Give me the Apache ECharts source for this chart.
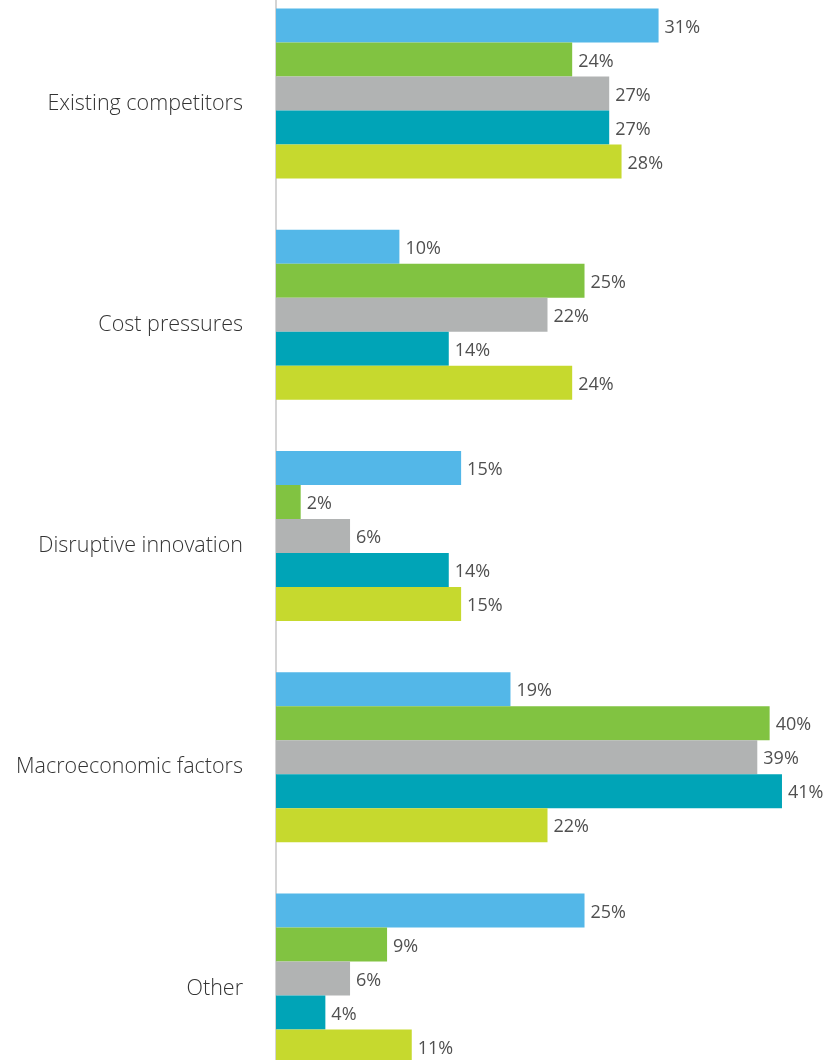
<!DOCTYPE html>
<html>
<head>
<meta charset="utf-8">
<script src="https://cdn.jsdelivr.net/npm/echarts@6/dist/echarts.min.js"></script>
<style>
  html, body { margin: 0; padding: 0; background: #fff; overflow: hidden; }
  /* the reference crops the plot at top and bottom */
  #chart { position: absolute; left: 0; top: -17px; width: 826px; height: 1106px; }
</style>
</head>
<body>
<div id="chart"></div>
<script>
// categories, top to bottom
const categories = ['Existing competitors', 'Cost pressures', 'Disruptive innovation', 'Macroeconomic factors', 'Other']

// five series per category (no legend shown in the picture)
const seriesA = [31, 10, 15, 19, 25]
const seriesB = [24, 25, 2, 40, 9]
const seriesC = [27, 22, 6, 39, 6]
const seriesD = [27, 14, 14, 41, 4]
const seriesE = [28, 24, 15, 22, 11]

const seriesData = [seriesA, seriesB, seriesC, seriesD, seriesE]
const colors = ['#53b7e8', '#81c341', '#b1b3b3', '#00a4b7', '#c6d92e']

const chart = echarts.init(document.getElementById('chart'))

const option = {
  animation: false,
  grid: {
    left: 276,
    right: 7,
    top: 0,
    bottom: 0,
    containLabel: false
  },
  xAxis: {
    type: 'value',
    min: 0,
    max: 44,
    show: false
  },
  yAxis: {
    type: 'category',
    inverse: true,
    data: categories,
    axisLine: {
      show: true,
      lineStyle: { color: '#d4d4d4', width: 2 }
    },
    axisTick: { show: false },
    axisLabel: {
      margin: 33,
      fontFamily: 'Open Sans',
      fontSize: 21.5,
      fontWeight: 300,
      color: '#333333',
      verticalAlign: 'top',
      lineHeight: 20
    }
  },
  series: seriesData.map((values, i) => ({
    type: 'bar',
    data: values,
    barWidth: 34,
    barGap: '0%',
    clip: false,
    itemStyle: { color: colors[i] },
    label: {
      show: true,
      position: 'right',
      distance: 6,
      offset: [0, 2],
      formatter: '{c}%',
      fontFamily: 'Open Sans',
      fontSize: 18,
      color: '#505050'
    }
  }))
}

chart.setOption(option)
</script>
</body>
</html>
